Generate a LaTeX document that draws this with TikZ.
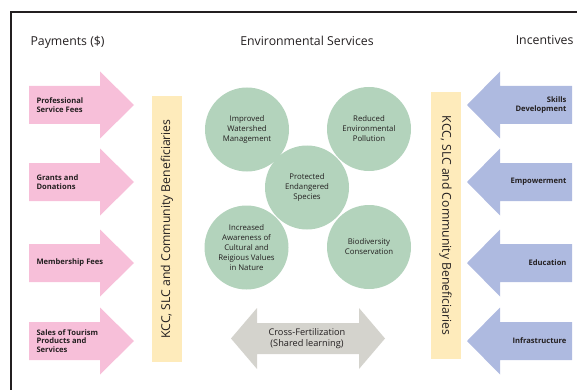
\documentclass[tikz,border=0pt]{standalone}
\usepackage{fontspec}
\setmainfont{Open Sans}

\definecolor{paypink}{HTML}{F7BFD9}
\definecolor{incblue}{HTML}{AEBAE0}
\definecolor{baryellow}{HTML}{FEEBBB}
\definecolor{servgreen}{HTML}{B3D3BC}
\definecolor{crossgray}{HTML}{D4D3CD}
\definecolor{ink}{HTML}{231F20}

\begin{document}
\begin{tikzpicture}[
  every node/.style={text=ink},
  heading/.style={font=\fontsize{12.3}{14}\selectfont},
  flowlabel/.style={font=\fontsize{7.6}{8.7}\selectfont\bfseries},
  service/.style={circle, fill=servgreen, minimum size=84pt, inner sep=0pt,
    align=center, font=\fontsize{7.8}{10}\selectfont},
  beneficiaries/.style={fill=baryellow, minimum height=30pt, inner sep=0pt,
    font=\fontsize{12.2}{14}\selectfont}
]
  \clip (0pt,0pt) rectangle (577pt,-390pt);

  % frame, open to the right and bottom
  \draw[line width=2pt, ink] (11pt,-395pt) |- (585pt,-12pt);

  % column headings
  \node[heading, anchor=west] (payhead) at (27pt,-42pt) {Payments (\$)};
  \node[heading] (envhead) at (307pt,-41pt) {Environmental Services};
  \node[heading, anchor=east] (inchead) at (577pt,-40pt) {Incentives};

  % payments in from the left
  \foreach \y/\name/\txt in {105/profees/{Professional\\Service Fees},
      182/grants/{Grants and\\Donations},
      263/members/{Membership Fees},
      341/tourism/{Sales of Tourism\\Products and\\Services}}{
    \begin{scope}[shift={(0pt,-\y pt)}]
      \fill[paypink] (29pt,19pt) -- (100pt,19pt) -- (100pt,33.5pt) -- (134pt,0pt)
        -- (100pt,-33.5pt) -- (100pt,-19pt) -- (29pt,-19pt) -- cycle;
      \node[flowlabel, align=left, anchor=west] (\name) at (33pt,0pt) {\txt};
    \end{scope}
  }

  % incentives back from the right
  \foreach \y/\name/\txt in {105/skills/{Skills\\Development},
      182/empower/{Empowerment},
      263/educ/{Education},
      341/infra/{Infrastructure}}{
    \begin{scope}[shift={(0pt,-\y pt)}]
      \fill[incblue] (572pt,19pt) -- (500pt,19pt) -- (500pt,33.5pt) -- (467pt,0pt)
        -- (500pt,-33.5pt) -- (500pt,-19pt) -- (572pt,-19pt) -- cycle;
      \node[flowlabel, align=right, anchor=east] (\name) at (570pt,0pt) {\txt};
    \end{scope}
  }

  % the two beneficiary bars
  \node[beneficiaries, rotate=90, minimum width=266pt] (leftbar) at (167pt,-229pt)
    {KCC, SLC and Community Beneficiaries};
  \node[beneficiaries, rotate=-90, minimum width=267pt] (rightbar) at (445.5pt,-225.5pt)
    {KCC, SLC and Community Beneficiaries};

  % services
  \node[service] (watershed) at (247pt,-129.5pt) {Improved\\Watershed\\Management};
  \node[service] (pollution) at (369pt,-129pt) {Reduced\\Environmental\\Pollution};
  \node[service] (species) at (307pt,-187.5pt) {Protected\\Endangered\\Species};
  \node[service] (awareness) at (246.5pt,-247.5pt)
    {Increased\\Awareness of\\Cultural and\\Reigious Values\\in Nature};
  \node[service] (biodiv) at (369pt,-247pt) {Biodiversity\\Conservation};

  % shared learning both ways
  \fill[crossgray] (231pt,-338.5pt) -- (257pt,-308pt) -- (257pt,-323pt) -- (359pt,-323pt)
    -- (359pt,-308pt) -- (385pt,-338.5pt) -- (359pt,-369pt) -- (359pt,-354pt)
    -- (257pt,-354pt) -- (257pt,-369pt) -- cycle;
  \node[align=center, font=\fontsize{9.2}{10.5}\selectfont] (crossfert) at (307pt,-338.5pt)
    {Cross-Fertilization\\(Shared learning)};

\end{tikzpicture}
\end{document}
